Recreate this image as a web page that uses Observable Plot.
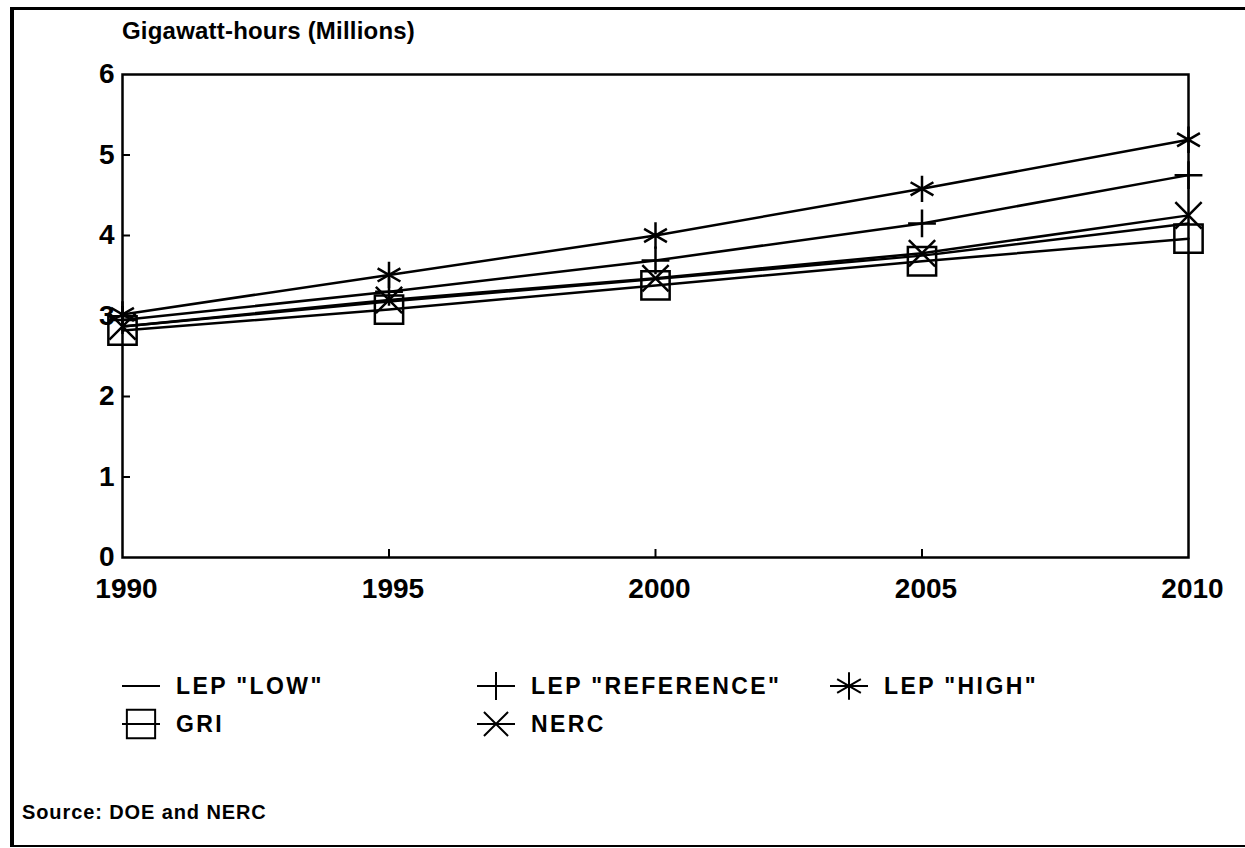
<!DOCTYPE html>
<html>
<head>
<meta charset="utf-8">
<script src="https://cdn.jsdelivr.net/npm/d3@7"></script>
<script src="https://cdn.jsdelivr.net/npm/@observablehq/plot@0.6"></script>
<style>
  body { margin: 0; background: #fff; }
  #page { position: relative; width: 1245px; height: 848px; overflow: hidden; background: #fff;
          font-family: "Liberation Sans", Arial, sans-serif; font-weight: bold; color: #000; }
  #border { position: absolute; left: 10px; top: 7px; width: 1245px; height: 835px;
            border-left: 4px solid #000; border-top: 3px solid #000; border-bottom: 2px solid #000; }
  #title { position: absolute; left: 122px; top: 17px; font-size: 24px; letter-spacing: 0.2px; }
  #chart { position: absolute; left: 0; top: 60px; }
  .leg { position: absolute; display: flex; align-items: center; font-size: 23px; letter-spacing: 2.4px; }
  .leg svg { margin-right: 16px; overflow: visible; }
  #source { position: absolute; left: 22px; top: 801px; font-size: 20px; letter-spacing: 0.9px; }
</style>
</head>
<body>
<div id="page">
  <div id="border"></div>
  <div id="title">Gigawatt-hours (Millions)</div>
  <div id="chart"></div>
  <div id="legend"></div>
  <div id="source">Source: DOE and NERC</div>
</div>
<script>
const years    = [1990, 1995, 2000, 2005, 2010];
const lepLow   = [2.87, 3.18, 3.46, 3.75, 4.15];
const lepRef   = [2.95, 3.30, 3.69, 4.15, 4.75];
const lepHigh  = [3.02, 3.51, 4.00, 4.58, 5.19];
const gri      = [2.82, 3.08, 3.38, 3.68, 3.96];
const nerc     = [2.87, 3.20, 3.47, 3.78, 4.25];
const yTicks   = [0, 1, 2, 3, 4, 5, 6];
const seriesNames = ['LEP "LOW"', 'LEP "REFERENCE"', 'LEP "HIGH"', 'GRI', 'NERC'];

const seriesValues = [lepLow, lepRef, lepHigh, gri, nerc];
const symbols = [null, "plus", "asterisk", "square2", "times"];
const radii = [0, 9, 12.5, 18, 12];

const rows = [];
seriesValues.forEach((vals, s) => years.forEach((yr, i) => rows.push({series: seriesNames[s], year: yr, value: vals[i]})));

const W = 1245, H = 560, mL = 122, mR = 57, mT = 14, mB = 63;
const plotW = W - mL - mR, plotH = H - mT - mB;

const marks = [
  Plot.frame({stroke: "black", strokeWidth: 2.5}),
  Plot.tickX(years.slice(1, -1), {x: d => d, insetTop: plotH - 8, stroke: "black", strokeWidth: 2}),
  Plot.tickY(yTicks.slice(1, -1), {y: d => d, insetRight: plotW - 8, stroke: "black", strokeWidth: 2}),
  Plot.axisX({ticks: years, tickSize: 0, tickPadding: 21, dx: 4, tickFormat: d => String(d), label: null, fontSize: 28, fontWeight: "bold"}),
  Plot.axisY({ticks: yTicks, tickSize: 0, tickPadding: 8, tickFormat: d => String(d), label: null, fontSize: 28, fontWeight: "bold"}),
  Plot.line(rows, {x: "year", y: "value", z: "series", stroke: "black", strokeWidth: 2.5})
];
seriesNames.forEach((name, s) => {
  if (!symbols[s]) return;
  marks.push(Plot.dot(rows.filter(r => r.series === name), {
    x: "year", y: "value", symbol: symbols[s], r: radii[s], stroke: "black", fill: "none", strokeWidth: 2.5
  }));
});

const chart = Plot.plot({
  width: W, height: H,
  marginLeft: mL, marginRight: mR, marginTop: mT, marginBottom: mB,
  x: {domain: [1990, 2010]},
  y: {domain: [0, 6]},
  style: "font-family: 'Liberation Sans', Arial, sans-serif; font-weight: bold; color: black; background: none; overflow: visible;",
  marks
});
document.getElementById("chart").appendChild(chart);

// Legend
const legendPos = [[122, 671], [477, 671], [830, 671], [122, 709], [477, 709]];
const legend = document.getElementById("legend");
seriesNames.forEach((name, s) => {
  const div = document.createElement("div");
  div.className = "leg";
  div.style.left = legendPos[s][0] + "px";
  div.style.top = legendPos[s][1] + "px";
  const svg = d3.create("svg").attr("width", 38).attr("height", 30);
  svg.append("line").attr("x1", 0).attr("x2", 38).attr("y1", 15).attr("y2", 15)
     .attr("stroke", "black").attr("stroke-width", 2);
  if (symbols[s]) {
    const symMap = {plus: d3.symbolPlus, asterisk: d3.symbolAsterisk, square2: d3.symbolSquare2, times: d3.symbolTimes};
    const rr = [0, 9, 13, 18, 11][s];
    svg.append("path").attr("transform", "translate(19,15)")
       .attr("d", d3.symbol(symMap[symbols[s]], Math.PI * rr * rr)())
       .attr("fill", "none").attr("stroke", "black").attr("stroke-width", 2);
  }
  div.appendChild(svg.node());
  const t = document.createElement("span");
  t.textContent = name;
  div.appendChild(t);
  legend.appendChild(div);
});
</script>
</body>
</html>
